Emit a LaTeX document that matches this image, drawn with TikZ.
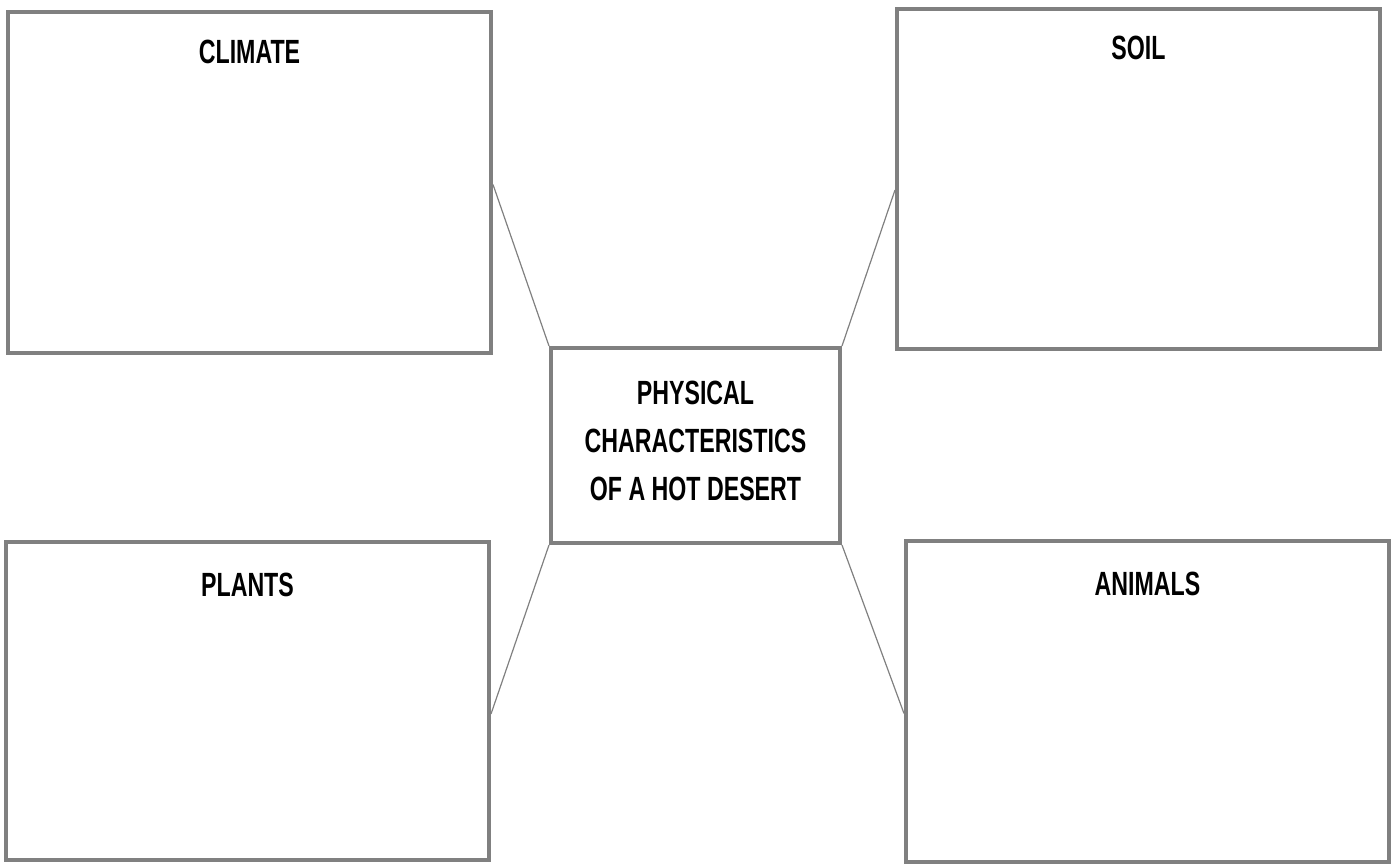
\documentclass[tikz,border=0pt]{standalone}
\usepackage{fontspec}
\newfontfamily\narrowfont[FakeStretch=0.69]{Liberation Sans}
\usetikzlibrary{calc}
\colorlet{boxcol}{black!50}
\tikzset{panel/.style={draw=boxcol,line width=2pt,inner sep=0pt},
         title/.style={font=\narrowfont\bfseries\fontsize{16.8}{24}\selectfont,align=center,inner sep=0pt},
         link/.style={draw=boxcol,line width=0.6pt}}

\begin{document}
\begin{tikzpicture}[x=0.5pt,y=-0.5pt]
                    \useasboundingbox (0,0) rectangle (1394,866);

                    \node[panel,minimum width=241.5pt,minimum height=170.5pt] (climate) at (249.5,182.5) {};
                    \node[panel,minimum width=241.5pt,minimum height=170pt] (soil) at (1138.5,179) {};
                    \node[panel,minimum width=241.5pt,minimum height=159pt] (plants) at (247.5,701) {};
                    \node[panel,minimum width=241.5pt,minimum height=160.5pt] (animals) at (1147.5,701.5) {};
                    \node[panel,minimum width=144.5pt,minimum height=97.5pt] (centre) at (695.5,445.5) {};

                    \node[title] (climatetitle) at ($(climate.north)+(0,42)$) {CLIMATE};
                    \node[title] (soiltitle) at ($(soil.north)+(0,41)$) {SOIL};
                    \node[title] (plantstitle) at ($(plants.north)+(0,45)$) {PLANTS};
                    \node[title] (animalstitle) at ($(animals.north)+(0,45)$) {ANIMALS};
                    \node[title] (centretitle) at ($(centre)+(0,-5)$) {PHYSICAL\\CHARACTERISTICS\\OF A HOT DESERT};

                    \draw[link] ($(climate.east)+(0,2)$) -- (centre.north west);
                    \draw[link] ($(soil.west)+(0,11)$) -- (centre.north east);
                    \draw[link] ($(plants.east)+(0,13)$) -- (centre.south west);
                    \draw[link] ($(animals.west)+(0,12)$) -- (centre.south east);
                \end{tikzpicture}
\end{document}
